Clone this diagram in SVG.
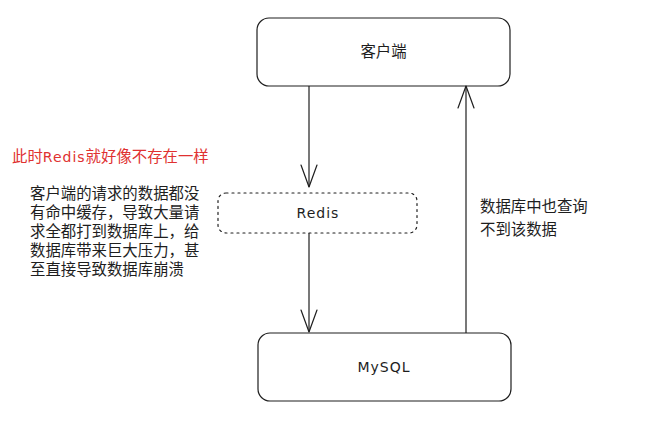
<svg xmlns="http://www.w3.org/2000/svg" width="645" height="430" viewBox="0 0 645 430">
<defs>
<style>
.box{fill:#ffffff;stroke:#1e1e1e;stroke-width:1.2}
.dot{fill:#ffffff;stroke:#1e1e1e;stroke-width:1.2;stroke-dasharray:2 4;stroke-linecap:round}
.lbl{font-family:"Liberation Sans","Noto Sans CJK SC",sans-serif;font-size:15.4px;fill:#1e1e1e}
.hand{font-family:"DejaVu Sans","Liberation Sans",sans-serif;font-size:14px;letter-spacing:1px;fill:#1e1e1e}
.red{fill:#e03131}
.conn{stroke:#1e1e1e;stroke-width:1.2;fill:none}
</style>
<marker id="arr" markerUnits="userSpaceOnUse" viewBox="-25 -10 30 20" refX="0" refY="0" markerWidth="30" markerHeight="20" orient="auto">
<path d="M -22 -8 L 0 0 L -22 8" fill="none" stroke="#1e1e1e" stroke-width="1.2" stroke-linecap="round" stroke-linejoin="round"/>
</marker>
</defs>
<rect width="645" height="430" fill="#ffffff"/>
<g id="client">
<rect class="box" x="257" y="18" width="253" height="68" rx="12"/>
<text class="lbl" x="383.5" y="57" text-anchor="middle">客户端</text>
</g>
<g id="redis">
<rect class="dot" x="218" y="193" width="199" height="40" rx="8"/>
<text class="hand" x="318" y="218" text-anchor="middle">Redis</text>
</g>
<g id="mysql">
<rect class="box" x="258" y="333" width="253" height="68" rx="12"/>
<text class="hand" x="384" y="372" text-anchor="middle">MySQL</text>
</g>
<g id="connectors">
<line class="conn" x1="309" y1="86" x2="309" y2="187" marker-end="url(#arr)"/>
<line class="conn" x1="309" y1="233" x2="309" y2="332" marker-end="url(#arr)"/>
<line class="conn" x1="466" y1="333" x2="466" y2="86" marker-end="url(#arr)"/>
</g>
<g id="notes">
<text class="lbl red" x="12" y="162">此时<tspan class="hand red" font-size="15">Redis</tspan>就好像不存在一样</text>
<text class="lbl" x="30" y="199">
<tspan x="30" y="199">客户端的请求的数据都没</tspan>
<tspan x="30" y="218">有命中缓存，导致大量请</tspan>
<tspan x="30" y="237">求全都打到数据库上，给</tspan>
<tspan x="30" y="256">数据库带来巨大压力，甚</tspan>
<tspan x="30" y="275">至直接导致数据库崩溃</tspan>
</text>
<text class="lbl" x="480" y="212">
<tspan x="480" y="212">数据库中也查询</tspan>
<tspan x="480" y="235">不到该数据</tspan>
</text>
</g>
</svg>
